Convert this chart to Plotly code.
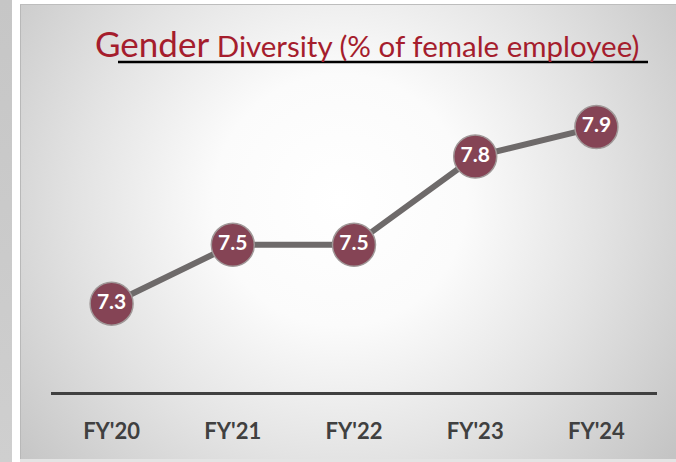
import base64
import plotly.graph_objects as go

categories = ["FY'20", "FY'21", "FY'22", "FY'23", "FY'24"]
values = [7.3, 7.5, 7.5, 7.8, 7.9]
labels = ["7.3", "7.5", "7.5", "7.8", "7.9"]

W, H = 676, 462
L, R, T, B = 51, 19, 80, 70
pw, ph = W - L - R, H - T - B

svg = f"""<svg xmlns='http://www.w3.org/2000/svg' width='{W}' height='{H}' viewBox='0 0 {W} {H}'>
<defs>
<radialGradient id='g' cx='340' cy='200' r='420' gradientUnits='userSpaceOnUse'>
<stop offset='0' stop-color='#ffffff'/>
<stop offset='0.3' stop-color='#fbfbfb'/>
<stop offset='0.62' stop-color='#e3e3e3'/>
<stop offset='1' stop-color='#c4c4c4'/>
</radialGradient>
<linearGradient id='s' x1='0' y1='0' x2='0' y2='1'>
<stop offset='0' stop-color='#c6c6c6'/>
<stop offset='1' stop-color='#cfcfcf'/>
</linearGradient>
</defs>
<rect x='0' y='0' width='{W}' height='{H}' fill='#ffffff'/>
<rect x='0' y='0' width='12' height='{H}' fill='url(#s)'/>
<rect x='20' y='4' width='{W-20}' height='455' fill='url(#g)'/>
<rect x='20' y='459' width='{W-20}' height='3' fill='#e4e4e4'/>
<line x1='20.5' y1='4' x2='20.5' y2='459' stroke='#b8b8b8' stroke-width='1'/>
<line x1='20' y1='4.5' x2='{W}' y2='4.5' stroke='#bdbdbd' stroke-width='1'/>
</svg>"""
src = "data:image/svg+xml;base64," + base64.b64encode(svg.encode()).decode()

fig = go.Figure()
fig.add_trace(go.Scatter(
    x=categories, y=values, mode="lines+markers+text",
    text=labels, textposition="middle center",
    textfont=dict(family="Lato", size=21, color="#ffffff", weight="bold"),
    line=dict(color="#6e6a6a", width=6),
    marker=dict(size=43, color="#854455", line=dict(color="#a09898", width=1.5)),
    cliponaxis=False, hoverinfo="skip",
))

fig.add_layout_image(dict(
    source=src, xref="paper", yref="paper",
    x=-L / pw, y=1 + T / ph, sizex=W / pw, sizey=H / ph,
    xanchor="left", yanchor="top", sizing="stretch", layer="below",
))

fig.add_annotation(
    xref="paper", yref="paper", x=(93 - L) / pw, y=1 + (T - 66) / ph,
    xanchor="left", yanchor="bottom", showarrow=False,
    text="<span style='font-size:35px'>Gender</span> Diversity (% of female employee)",
    font=dict(family="Lato", size=29.5, color="#a51d2d"),
)
fig.add_shape(type="line", xref="paper", yref="paper",
              x0=(118 - L) / pw, x1=(648 - L) / pw,
              y0=1 + (T - 62) / ph, y1=1 + (T - 62) / ph,
              line=dict(color="#000000", width=2.5))

fig.update_layout(
    width=W, height=H, margin=dict(l=L, r=R, t=T, b=B),
    paper_bgcolor="#ffffff", plot_bgcolor="rgba(0,0,0,0)",
    showlegend=False,
    xaxis=dict(range=[-0.5, 4.5], showgrid=False, zeroline=False,
               showline=True, linecolor="#404040", linewidth=3,
               ticks="outside", ticklen=18, tickcolor="rgba(0,0,0,0)",
               tickfont=dict(family="Lato", size=22, color="#404040", weight="bold"),
               fixedrange=True),
    yaxis=dict(range=[7.0, 8.06], visible=False, fixedrange=True),
)
fig.write_html("out.html", config={"displayModeBar": False, "staticPlot": True},
               post_script="document.body.style.margin='0';document.body.style.overflow='hidden';")
